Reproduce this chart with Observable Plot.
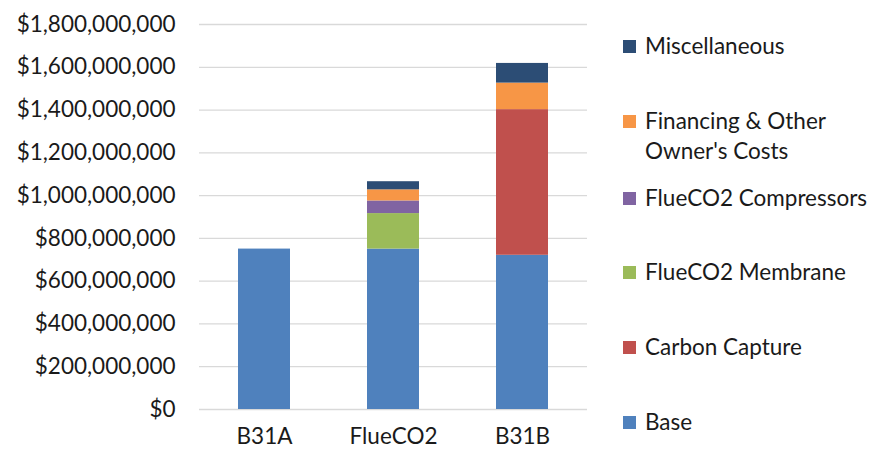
<!DOCTYPE html>
<html>
<head>
<meta charset="utf-8">
<script src="https://cdn.jsdelivr.net/npm/d3@7"></script>
<script src="https://cdn.jsdelivr.net/npm/@observablehq/plot@0.6"></script>
<style>
  html, body { margin: 0; padding: 0; background: #fff; }
  #wrap { position: relative; width: 875px; height: 454px; font-family: Lato, "Open Sans", sans-serif; }
  #legend { position: absolute; left: 0; top: 0; }
  .li { position: absolute; left: 623px; font-size: 22.5px; color: #1a1a1a; line-height: 30px; white-space: nowrap; }
  .sw { position: absolute; left: 0; top: 9px; width: 13px; height: 13px; }
  .lt { position: absolute; left: 22px; top: 0; }
</style>
</head>
<body>
<div id="wrap"><div id="legend"></div></div>
<script>
const categories = ["B31A", "FlueCO2", "B31B"];
const series = ["Base", "Carbon Capture", "FlueCO2 Membrane", "FlueCO2 Compressors", "Financing & Other Owner's Costs", "Miscellaneous"];
const colors = ["#4F81BD", "#C0504D", "#9BBB59", "#8064A2", "#F79646", "#2C4D75"];
// values per series, in category order (B31A, FlueCO2, B31B)
const base = [750e6, 750e6, 721e6];
const carbonCapture = [0, 0, 681e6];
const flueMembrane = [0, 166e6, 0];
const flueCompressors = [0, 59e6, 0];
const financing = [0, 52e6, 124e6];
const misc = [0, 38e6, 92e6];
const yTicks = [0, 200e6, 400e6, 600e6, 800e6, 1000e6, 1200e6, 1400e6, 1600e6, 1800e6];

const seriesValues = [base, carbonCapture, flueMembrane, flueCompressors, financing, misc];
const data = [];
series.forEach((s, i) => categories.forEach((c, j) => data.push({category: c, series: s, value: seriesValues[i][j]})));

const fmt = d => "$" + d3.format(",")(d);

const chart = Plot.plot({
  width: 875,
  height: 454,
  marginLeft: 199,
  marginRight: 288,
  marginTop: 24,
  marginBottom: 45,
  style: {fontFamily: "Lato, 'Open Sans', sans-serif", fontSize: "22.5px", color: "#1a1a1a", background: "#fff"},
  x: {domain: categories, paddingInner: 0.6, paddingOuter: 0.3, label: null},
  y: {domain: [0, 1800e6], ticks: yTicks, label: null},
  color: {domain: series, range: colors},
  marks: [
    Plot.gridY(yTicks, {stroke: "#d9d9d9", strokeOpacity: 1, strokeWidth: 1.3}),
    Plot.barY(data, {x: "category", y: "value", fill: "series", order: series}),
    Plot.axisY({ticks: yTicks, tickFormat: fmt, tickSize: 0, tickPadding: 24, fontSize: 22.5, label: null}),
    Plot.axisX({tickSize: 0, tickPadding: 19, fontSize: 22.5, label: null})
  ]
});
document.getElementById("wrap").prepend(chart);

const legendPos = [
  {s: "Miscellaneous", y: 31},
  {s: "Financing & Other Owner's Costs", y: 106, lines: ["Financing & Other", "Owner's Costs"]},
  {s: "FlueCO2 Compressors", y: 183},
  {s: "FlueCO2 Membrane", y: 257},
  {s: "Carbon Capture", y: 332},
  {s: "Base", y: 407}
];
const legend = document.getElementById("legend");
legendPos.forEach(p => {
  const el = document.createElement("div");
  el.className = "li";
  el.style.top = p.y + "px";
  const sw = document.createElement("div");
  sw.className = "sw";
  sw.style.background = colors[series.indexOf(p.s)];
  const t = document.createElement("div");
  t.className = "lt";
  t.innerHTML = (p.lines || [p.s]).map(l => l.replace(/&/g, "&amp;")).join("<br>");
  el.appendChild(sw); el.appendChild(t);
  legend.appendChild(el);
});
</script>
</body>
</html>
